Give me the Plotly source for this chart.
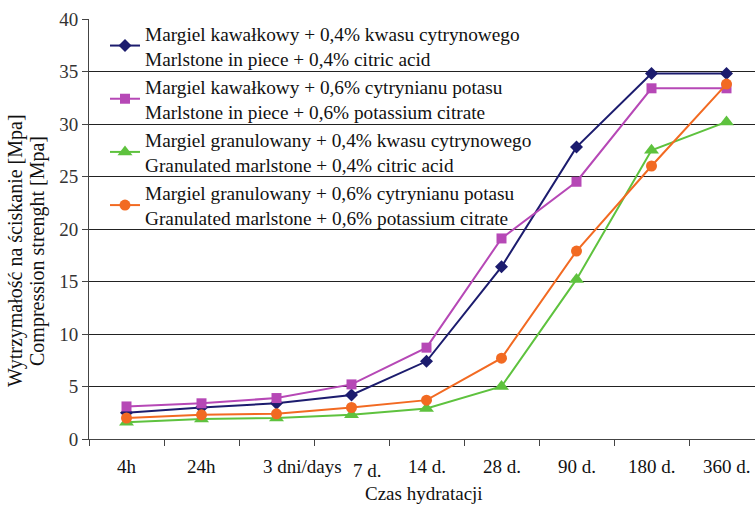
import plotly.graph_objects as go

categories = ["4h", "24h", "3 dni/days", "7 d.", "14 d.", "28 d.", "90 d.", "180 d.", "360 d."]

series_names = [
    "Margiel kawałkowy + 0,4% kwasu cytrynowego<br>Marlstone in piece + 0,4% citric acid",
    "Margiel kawałkowy + 0,6% cytrynianu potasu<br>Marlstone in piece + 0,6% potassium citrate",
    "Margiel granulowany + 0,4% kwasu cytrynowego<br>Granulated marlstone + 0,4% citric acid",
    "Margiel granulowany + 0,6% cytrynianu potasu<br>Granulated marlstone + 0,6% potassium citrate",
]

piece_citric = [2.5, 3.0, 3.4, 4.2, 7.4, 16.4, 27.8, 34.8, 34.8]
piece_potassium = [3.1, 3.4, 3.9, 5.2, 8.7, 19.1, 24.5, 33.4, 33.4]
gran_citric = [1.6, 1.9, 2.0, 2.3, 2.9, 5.0, 15.2, 27.5, 30.2]
gran_potassium = [2.0, 2.3, 2.4, 3.0, 3.7, 7.7, 17.9, 26.0, 33.8]

y_ticks = [0, 5, 10, 15, 20, 25, 30, 35, 40]
x_title = "Czas hydratacji"
y_title_lines = ["Wytrzymałość na ściskanie [Mpa]", "Compression strenght [Mpa]"]

FONT = "Liberation Serif, Times New Roman, serif"

styles = [
    dict(color="#1c1c6e", symbol="diamond", size=10),
    dict(color="#b648b6", symbol="square", size=10),
    dict(color="#5ec23e", symbol="triangle-up", size=13),
    dict(color="#f26a22", symbol="circle", size=11),
]
data = [piece_citric, piece_potassium, gran_citric, gran_potassium]

fig = go.Figure()
for i, (name, vals, st) in enumerate(zip(series_names, data, styles)):
    fig.add_trace(go.Scatter(
        x=categories, y=vals, name=name, mode="lines+markers",
        line=dict(color=st["color"], width=2),
        marker=dict(color=st["color"], symbol=st["symbol"], size=st["size"]),
        legendgroup=f"g{i}",
    ))

# x tick labels as annotations (two labels in the original are offset)
xshift = {"3 dni/days": 26, "7 d.": 16}
yshift_extra = {"7 d.": -4}
for c in categories:
    fig.add_annotation(
        x=c, y=0, xref="x", yref="paper", text=c, showarrow=False,
        yanchor="top", xanchor="center", xshift=xshift.get(c, 0),
        yshift=-15 + yshift_extra.get(c, 0),
        font=dict(family=FONT, size=19, color="#111"),
    )

fig.add_annotation(
    x=0.5, y=0, xref="paper", yref="paper", text=x_title, showarrow=False,
    yanchor="top", xanchor="center", xshift=2, yshift=-42,
    font=dict(family=FONT, size=19, color="#111"),
)
for j, t in enumerate(y_title_lines):
    fig.add_annotation(
        x=0, y=0.5, xref="paper", yref="paper", text=t, showarrow=False,
        textangle=-90, xanchor="center", yanchor="middle",
        xshift=-74 + 22 * j, yshift=-22,
        font=dict(family=FONT, size=20, color="#111"),
    )

fig.update_layout(
    width=755, height=506,
    margin=dict(l=89, r=0, t=19, b=67),
    paper_bgcolor="white", plot_bgcolor="white",
    font=dict(family=FONT, size=19, color="#111"),
    showlegend=True,
    legend=dict(
        x=0.024, y=1.012, xanchor="left", yanchor="top",
        bgcolor="rgba(0,0,0,0)", borderwidth=0,
        font=dict(family=FONT, size=19.3, color="#111"),
        tracegroupgap=0, itemwidth=30,
    ),
    xaxis=dict(
        type="category", categoryorder="array", categoryarray=categories,
        range=[-0.5, -0.5 + 666 / 75],
        showticklabels=False, showgrid=False, zeroline=False,
        showline=True, linecolor="#444", linewidth=1,
        ticks="outside", ticklen=6, tickcolor="#444",
        tickmode="array", tickvals=[i - 0.5 for i in range(len(categories) + 1)],
    ),
    yaxis=dict(
        range=[0, 40], tickvals=y_ticks,
        showgrid=True, gridcolor="#222", gridwidth=1,
        zeroline=False, showline=True, linecolor="#444", linewidth=1,
        ticks="outside", ticklen=6, tickcolor="#444",
        tickfont=dict(family=FONT, size=19, color="#333"),
    ),
)

fig.write_html(
    "out.html",
    config={"displayModeBar": False},
    post_script="document.body.style.margin='0';document.body.style.overflow='hidden';",
)
